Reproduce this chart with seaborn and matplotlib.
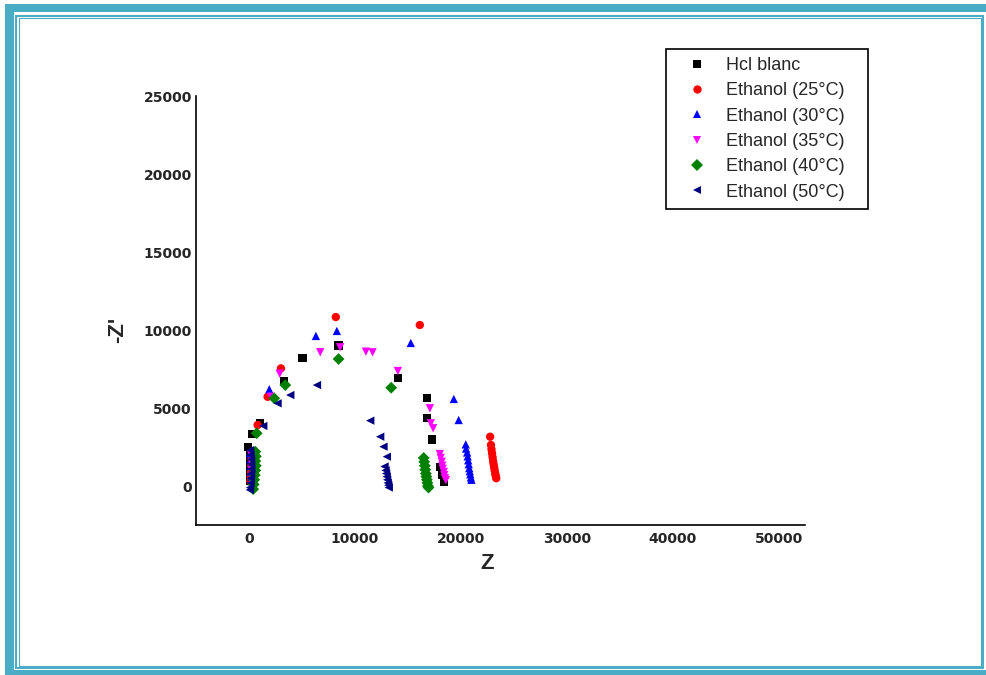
import matplotlib
matplotlib.use("Agg")
import matplotlib.pyplot as plt
from matplotlib.patches import Rectangle
import pandas as pd
import seaborn as sns

# ---- data: Nyquist plots (Z, -Z'') for each sample ----
series_names = ["Hcl blanc", "Ethanol (25°C)", "Ethanol (30°C)",
                "Ethanol (35°C)", "Ethanol (40°C)", "Ethanol (50°C)"]
series_colors = ["#000000", "#FF0000", "#0000FF", "#FF00FF", "#008000", "#000080"]
series_markers = ["s", "o", "^", "v", "D", "<"]

hcl_z = [150, 130, 110, 90, 80, -90, 280, 1040, 3300, 5070, 8460, 14060,
         16800, 16800, 17300, 18100, 18250, 18400]
hcl_zim = [300, 700, 1100, 1500, 2000, 2500, 3330, 4040, 6730, 8200, 9000, 6920,
           5640, 4360, 2980, 1200, 700, 260]

e25_z = [150, 170, 200, 230, 260, 300, 820, 1760, 3020, 8200, 16130, 22770,
         22850, 22900, 22950, 23000, 23050, 23100, 23150, 23200, 23250, 23300, 23350]
e25_zim = [300, 600, 900, 1300, 1700, 2200, 3910, 5720, 7540, 10830, 10320, 3160,
           2630, 2350, 2100, 1850, 1600, 1400, 1200, 1000, 800, 650, 500]

e30_z = [100, 150, 180, 200, 230, 260, 1920, 6320, 8300, 15280, 19340, 19800,
         20470, 20500, 20600, 20650, 20700, 20750, 20800, 20850, 20900, 20950, 21000]
e30_zim = [2100, 1700, 1300, 900, 600, 300, 6200, 9620, 9940, 9170, 5580, 4230,
           2670, 2400, 2150, 1900, 1650, 1400, 1150, 950, 750, 550, 400]

e35_z = [200, 220, 250, 280, 300, 2080, 2900, 6730, 8610, 11040, 11670, 14060,
         17080, 17170, 17390, 18020, 18100, 18200, 18250, 18300, 18400, 18450, 18500, 18600]
e35_zim = [2000, 1500, 1000, 600, 250, 5720, 7200, 8570, 8890, 8610, 8570, 7370,
           4980, 4020, 3700, 2050, 1800, 1550, 1300, 1100, 900, 700, 500, 380]

e40_z = [600, 650, 600, 650, 600, 550, 500, 450, 400, 730, 2390, 3430, 8460, 13430,
         16500, 16550, 16600, 16650, 16700, 16750, 16800, 16850, 16900, 16950]
e40_zim = [2200, 1900, 1600, 1300, 1000, 700, 400, 100, -200, 3380, 5620, 6470, 8140, 6300,
           1800, 1550, 1300, 1050, 800, 600, 400, 200, 0, -100]

e50_z = [100, 150, 200, 200, 220, 200, 180, 150, 100, 80, 1350, 2700, 3900, 6420,
         11450, 12390, 12700, 13020, 12800, 12900, 12950, 13000, 13050, 13100, 13150, 13200]
e50_zim = [2300, 2000, 1700, 1400, 1100, 800, 500, 200, -100, -250, 3850, 5300, 5830, 6470,
           4190, 3160, 2520, 1880, 1250, 1000, 800, 600, 400, 200, 50, -100]

x_ticks = [0, 10000, 20000, 30000, 40000, 50000]
y_ticks = [0, 5000, 10000, 15000, 20000, 25000]

all_z = [hcl_z, e25_z, e30_z, e35_z, e40_z, e50_z]
all_zim = [hcl_zim, e25_zim, e30_zim, e35_zim, e40_zim, e50_zim]

frames = []
for name, zs, zims in zip(series_names, all_z, all_zim):
    frames.append(pd.DataFrame({"Z": zs, "Zim": zims, "sample": name}))
df = pd.concat(frames, ignore_index=True)

# ---- figure ----
W, H = 987, 675
sns.set_style("white")
plt.rcParams["font.family"] = ["Liberation Sans", "DejaVu Sans"]

fig = plt.figure(figsize=(W / 100, H / 100), dpi=100)
ax = fig.add_axes([196 / W, 1 - 525 / H, (805 - 196) / W, (525 - 96) / H])

sns.scatterplot(
    data=df, x="Z", y="Zim", hue="sample", style="sample",
    hue_order=series_names, style_order=series_names,
    palette=dict(zip(series_names, series_colors)),
    markers=dict(zip(series_names, series_markers)),
    s=36, linewidth=0, ax=ax, legend="full",
)

ax.set_xlim(-5000, 52500)
ax.set_ylim(-2500, 25000)
ax.set_xticks(x_ticks)
ax.set_yticks(y_ticks)
ax.set_xticklabels([str(v) for v in x_ticks])
ax.set_yticklabels([str(v) for v in y_ticks])
ax.tick_params(axis="both", length=0, labelsize=10)
ax.tick_params(axis="x", pad=5)
ax.tick_params(axis="y", pad=3)
for lab in ax.get_xticklabels() + ax.get_yticklabels():
    lab.set_fontfamily("DejaVu Sans")
    lab.set_fontweight("bold")

sns.despine(ax=ax)
for side in ("left", "bottom"):
    ax.spines[side].set_color("black")
    ax.spines[side].set_linewidth(1.2)

ax.set_xlabel("Z", fontsize=16, fontweight="bold")
ax.set_ylabel("-Z'", fontsize=16, fontweight="bold")
ax.xaxis.set_label_coords(0.478, -0.065)
ax.yaxis.set_label_coords(-0.112, 0.455)

sns.move_legend(
    ax, "upper left",
    bbox_to_anchor=(666 / W, 1 - 49 / H, 202 / W, 0.0),
    bbox_transform=fig.transFigure,
    mode="expand", borderaxespad=0, title=None,
    frameon=True, fancybox=False, edgecolor="black",
    fontsize=13, labelspacing=0.46, borderpad=0.45,
    handlelength=2.5, handletextpad=0.4, markerscale=1.0,
)
leg = ax.get_legend()
leg.get_frame().set_linewidth(1.2)
leg.get_frame().set_facecolor("white")
leg.get_frame().set_alpha(1)

# ---- decorative page frame ----
teal = "#4BACC6"


def px_rect(x0, y0, x1, y1, **kw):
    return Rectangle((x0 / W, 1 - y1 / H), (x1 - x0) / W, (y1 - y0) / H,
                     transform=fig.transFigure, **kw)


for box in [(5, 4, W, 12), (5, 4, 14, H), (5, 670, W, H)]:
    fig.add_artist(px_rect(*box, facecolor=teal, edgecolor="none"))
fig.add_artist(px_rect(16.5, 15.5, 983.5, 668, facecolor="none", edgecolor=teal, linewidth=1.5))
fig.add_artist(px_rect(19, 18, 981, 665.5, facecolor="none", edgecolor=teal, linewidth=0.8))

fig.savefig("out.png", dpi=100)
